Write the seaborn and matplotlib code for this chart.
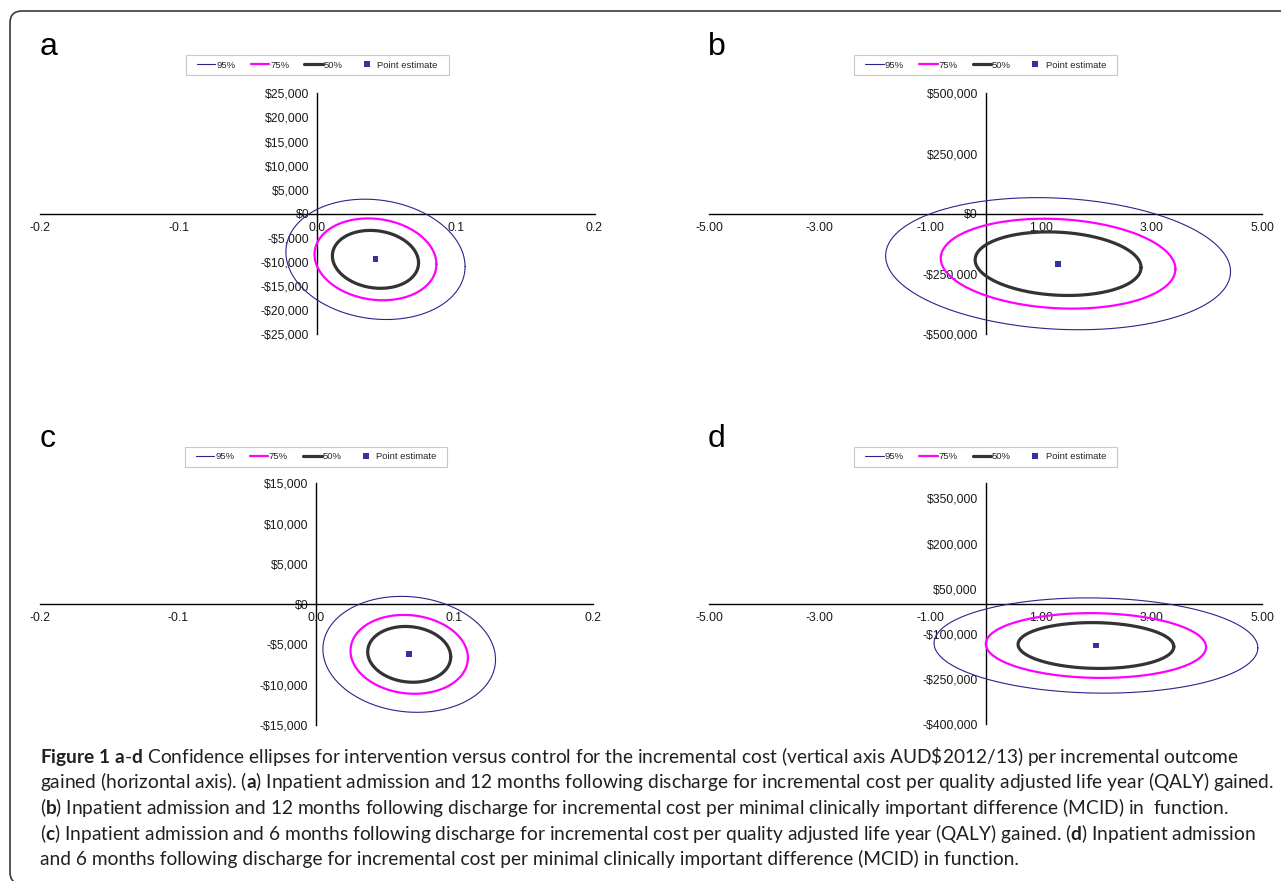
import numpy as np
import pandas as pd
import matplotlib.pyplot as plt
import seaborn as sns
from matplotlib.lines import Line2D
from matplotlib.patches import Rectangle, FancyBboxPatch
from matplotlib.transforms import IdentityTransform

sns.set_style("white")
plt.rcParams['font.family'] = ['Liberation Sans', 'DejaVu Sans']
plt.rcParams['mathtext.fontset'] = 'custom'
plt.rcParams['mathtext.rm'] = 'Lato'
plt.rcParams['mathtext.bf'] = 'Lato:bold'

# ================================
# Data
# ================================
panels = ['a', 'b', 'c', 'd']

# point estimates: incremental outcome (x) and incremental cost (y)
effect_mean = [0.042, 1.31, 0.0673, 1.995]
cost_mean = [-9450, -207000, -6230, -138500]

# spread / correlation of the joint distribution behind each ellipse
effect_sd = [0.0264, 1.275, 0.0255, 1.197]
cost_sd = [5100, 112000, 2940, 64600]
corr = [-0.12, -0.12, -0.09, -0.05]

levels = [0.95, 0.75, 0.50]
level_labels = ['95%', '75%', '50%']

x_limits = [(-0.2, 0.2), (-5, 5), (-0.2, 0.2), (-5, 5)]
x_ticks = [
    [-0.2, -0.1, 0.0, 0.1, 0.2],
    [-5, -3, -1, 1, 3, 5],
    [-0.2, -0.1, 0.0, 0.1, 0.2],
    [-5, -3, -1, 1, 3, 5],
]
x_ticklabels = [
    ['-0.2', '-0.1', '0.0', '0.1', '0.2'],
    ['-5.00', '-3.00', '-1.00', '1.00', '3.00', '5.00'],
    ['-0.2', '-0.1', '0.0', '0.1', '0.2'],
    ['-5.00', '-3.00', '-1.00', '1.00', '3.00', '5.00'],
]
y_limits = [(-25000, 25000), (-500000, 500000), (-15000, 15000), (-400000, 400000)]
y_ticks = [
    [25000, 20000, 15000, 10000, 5000, 0, -5000, -10000, -15000, -20000, -25000],
    [500000, 250000, 0, -250000, -500000],
    [15000, 10000, 5000, 0, -5000, -10000, -15000],
    [350000, 200000, 50000, -100000, -250000, -400000],
]

caption_lines = [
    r"$\mathbf{Figure}$ $\mathbf{1}$ $\mathbf{a}$-$\mathbf{d}$ Confidence ellipses for intervention versus control "
    r"for the incremental cost (vertical axis AUD\$2012/13) per incremental outcome",
    r"gained (horizontal axis). ($\mathbf{a}$) Inpatient admission and 12 months following discharge for "
    r"incremental cost per quality adjusted life year (QALY) gained.",
    r"($\mathbf{b}$) Inpatient admission and 12 months following discharge for incremental cost per minimal "
    r"clinically important difference (MCID) in  function.",
    r"($\mathbf{c}$) Inpatient admission and 6 months following discharge for incremental cost per quality "
    r"adjusted life year (QALY) gained. ($\mathbf{d}$) Inpatient admission",
    r"and 6 months following discharge for incremental cost per minimal clinically important difference "
    r"(MCID) in function.",
]

# ================================
# Styles / layout
# ================================
W, H = 1281, 881
level_style = {
    '95%': dict(color='#26268c', linewidth=0.8),
    '75%': dict(color='#ff00ff', linewidth=1.6),
    '50%': dict(color='#333333', linewidth=2.3),
}
point_color = '#333399'

# axes boxes in pixels: left, top, right, bottom
ax_px = [
    (40, 93.3, 594.5, 334.3),
    (709.4, 93.3, 1262, 334.3),
    (39.6, 483.3, 592.7, 725),
    (709.4, 483.3, 1262, 724.3),
]
legend_top = [55.3, 55.3, 446.7, 446.7]
letter_pos = [(40, 55), (708, 55), (40, 446.5), (708, 446.5)]


def ellipse_points(mx, my, sx, sy, r, level, n=300):
    k = np.sqrt(-2 * np.log(1 - level))
    t = np.linspace(0, 2 * np.pi, n)
    x = mx + k * sx * np.cos(t)
    y = my + k * sy * (r * np.cos(t) + np.sqrt(1 - r ** 2) * np.sin(t))
    return pd.DataFrame({'x': x, 'y': y})


def money(v):
    if v < 0:
        return f"-\\${abs(v):,.0f}"
    return f"\\${v:,.0f}"


fig = plt.figure(figsize=(W / 100, H / 100), dpi=100)

for i, p in enumerate(panels):
    l, t, r, b = ax_px[i]
    ax = fig.add_axes([l / W, 1 - b / H, (r - l) / W, (b - t) / H])
    ax.set_facecolor('none')

    for lev, lab in zip(levels, level_labels):
        pts = ellipse_points(effect_mean[i], cost_mean[i], effect_sd[i], cost_sd[i], corr[i], lev)
        sns.lineplot(data=pts, x='x', y='y', sort=False, estimator=None, ax=ax,
                     legend=False, **level_style[lab])

    sns.scatterplot(x=[effect_mean[i]], y=[cost_mean[i]], marker='s', s=18,
                    color=point_color, edgecolor='none', ax=ax, legend=False, zorder=5)

    ax.set_xlim(*x_limits[i])
    ax.set_ylim(*y_limits[i])
    ax.set_xticks(x_ticks[i], x_ticklabels[i])
    ax.set_yticks(y_ticks[i], [money(v) for v in y_ticks[i]])
    ax.set_xlabel('')
    ax.set_ylabel('')

    for s in ['top', 'right']:
        ax.spines[s].set_visible(False)
    ax.spines['left'].set_position(('data', 0))
    ax.spines['bottom'].set_position(('data', 0))
    for s in ['left', 'bottom']:
        ax.spines[s].set_color('black')
        ax.spines[s].set_linewidth(1.0)
        ax.spines[s].set_zorder(1)

    ax.tick_params(axis='both', direction='out', length=3.5, width=0.8, color='#a6a6a6',
                   labelsize=8.8, labelcolor='#1a1a1a')
    ax.tick_params(axis='x', pad=2.5)
    ax.tick_params(axis='y', pad=2.2)

    # legend centred over the vertical axis, framed by a light box
    cx = (l + r) / 2
    lt = legend_top[i]
    box_w, box_h = 262.5, 20
    fig.add_artist(Rectangle(((cx - box_w / 2) / W, 1 - (lt + box_h) / H), box_w / W, box_h / H,
                             transform=fig.transFigure, fill=False, edgecolor='#c8c8c8', linewidth=0.8))
    handles = [Line2D([], [], **level_style[lab]) for lab in level_labels]
    handles.append(Line2D([], [], linestyle='none', marker='s', markersize=3.8,
                          color=point_color, markeredgewidth=0))
    ax.legend(handles, level_labels + ['Point estimate'], loc='center',
              bbox_to_anchor=(cx / W, 1 - (lt + box_h / 2) / H), bbox_transform=fig.transFigure,
              ncol=4, frameon=False, fontsize=6.8, handlelength=1.95, handletextpad=0.1,
              columnspacing=1.6, borderpad=0, borderaxespad=0)

    lx, ly = letter_pos[i]
    fig.text(lx / W, 1 - ly / H, p, fontsize=23, color='black', va='baseline', ha='left')

# rounded frame around the figure (runs off the right and bottom edges)
fig.add_artist(FancyBboxPatch((10, -3), 1300, H - 11 + 3, boxstyle='round,pad=0,rounding_size=12',
                              transform=IdentityTransform(), fill=False, edgecolor='#3a3a3a',
                              linewidth=1.2))

# caption
for j, line in enumerate(caption_lines):
    y = 762.5 + j * 25.75
    fig.text(40 / W, 1 - y / H, line, fontsize=13.75, family='Lato', color='#231f20',
             va='baseline', ha='left')

fig.savefig('out.png', dpi=100)
